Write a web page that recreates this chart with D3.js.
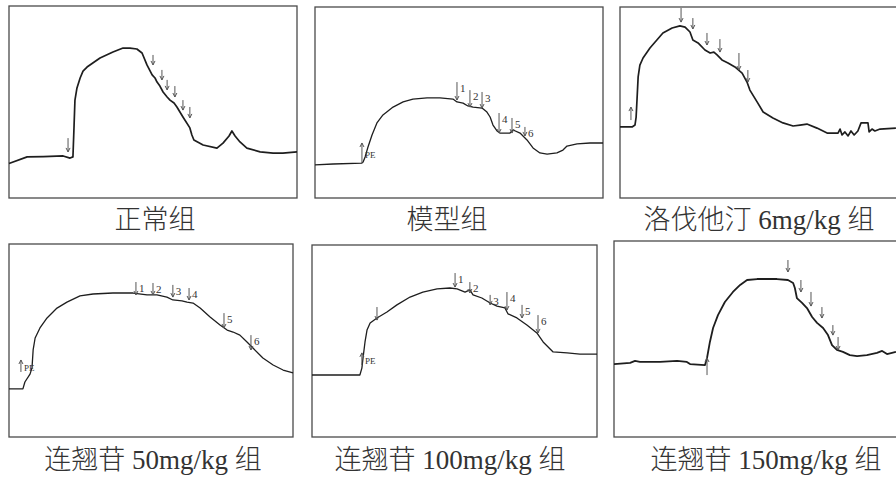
<!DOCTYPE html>
<html><head><meta charset="utf-8">
<script src="https://cdn.jsdelivr.net/npm/d3@7"></script>
<style>html,body{margin:0;padding:0;background:#fff;overflow:hidden}</style>
</head><body>
<svg id="c" width="896" height="477"></svg>
<script>
// ---- data (time 0-100, tension 0-100 per panel) ----
const titles = ["正常组","模型组","洛伐他汀 6mg/kg 组","连翘苷 50mg/kg 组","连翘苷 100mg/kg 组","连翘苷 150mg/kg 组"];

const trace1 = [[0,18],[6.3,21.4],[12,21.6],[18.8,21.9],[21.2,20.8],[22.2,21.4],[22.6,38],[22.9,51],[23.6,57.3],[24.7,62.5],[25.7,66.1],[27.1,68.2],[31.6,72.9],[36.1,76],[39.6,78.1],[42,78.1],[44.4,77.6],[46.2,75.5],[47.9,69.3],[49.7,64.1],[50.7,62.5],[51.4,60.4],[52.4,58.3],[53.5,55.2],[54.9,52.6],[55.9,51],[57.3,49.5],[58.3,47.4],[60.4,42.2],[62.8,36.5],[63.5,32.8],[64.2,30.2],[67.4,27.6],[72.2,26],[74.3,28.6],[76.4,32.3],[77.4,34.9],[78.5,32.3],[80.2,29.2],[82.6,26],[87.2,24],[91.7,23.4],[95.1,23.4],[100,24]];
const marks1 = [[20.5,31.2,24,""],[50,74.5,69.3,""],[53.1,66.7,61.5,""],[54.9,61.5,56.3,""],[57.6,58.3,52.6,""],[60.4,51,45.8,""],[62.8,47.4,41.7,""]];

const trace2 = [[0,17.3],[6.3,17.8],[16.3,18.3],[16.7,18.8],[17.4,21.5],[18.4,26.7],[19.8,33],[21.5,39.3],[23.6,43.5],[27.1,47.6],[30.6,50.3],[34,51.8],[38.9,52.4],[43.4,52.4],[47.9,51.8],[49.3,50.3],[51.4,49.7],[53.1,48.2],[54.9,47.6],[58,47.1],[59.7,45],[60.8,42.4],[61.8,38.2],[63.2,35.1],[64.2,34],[67.7,34],[68.8,35.6],[71.2,34],[73.6,30.4],[75.7,26.2],[78.1,23.6],[80.6,23],[84,23.6],[86.1,25.1],[87.5,27.2],[91,28.3],[95.5,28.8],[100,28.8]];
const marks2 = [[16.3,18.3,28.8,"PE"],[49.3,60.7,51.3,"1"],[53.8,56.5,47.6,"2"],[58,55.5,47.1,"3"],[63.9,44.5,34,"4"],[68.4,41.9,34,"5"],[72.9,37.2,32.5,"6"]];

const trace3 = [[0,37.2],[4.2,37.2],[5.2,38.2],[5.6,42.4],[5.9,51.3],[6.3,63.4],[6.9,69.6],[8,73.3],[10.4,78.5],[12.8,82.7],[14.9,86.4],[18.1,89],[20.8,90.1],[22.6,89.5],[24.3,86.9],[25.3,82.7],[27.1,81.2],[29.5,77.5],[31.3,75.9],[32.6,76.4],[33.7,74.9],[35.4,72.3],[37.5,70.7],[39.9,68.6],[42.4,65.4],[44.1,60.7],[45.1,56.5],[47.6,50.3],[49.7,45],[53.1,41.9],[56.6,39.3],[60.1,37.7],[62.5,38.2],[64.9,38.7],[68.4,36.6],[71.9,34],[75.7,34],[76.4,36.1],[77.1,33],[78.1,34.6],[79.2,32.5],[80.2,35.1],[81.3,33],[82.6,35.1],[83.7,39.3],[86.1,39.3],[86.5,34.6],[87.5,36.1],[88.5,35.1],[90.3,36.1],[95.8,36.6]];
const marks3 = [[3.8,40.8,47.6,""],[21.2,99.5,92.1,""],[25.3,94.2,88.5,""],[30.2,86.4,80.1,""],[34.7,83.2,76.4,""],[41.3,75.9,67,""],[44.4,67,60.7,""]];

const trace4 = [[0,24.9],[4.9,24.9],[5.6,28.5],[7.4,32.6],[8.1,35.8],[8.5,45.1],[9.2,51.3],[10.9,56.5],[13.4,61.7],[16.9,66.8],[20.4,69.9],[25,73.1],[29.6,74.1],[36.6,74.6],[43.7,74.6],[48.6,73.6],[52.1,73.6],[55.6,72.5],[57.7,71],[60.9,70.5],[62.7,69.9],[64.8,69.4],[67.3,66.8],[70.8,62.2],[74.3,58],[76.8,55.4],[78.9,54.4],[81.3,52.8],[83.8,49.2],[85.9,46.1],[89.4,40.9],[93,37.3],[96.5,34.7],[100,33.2]];
const marks4 = [[4.2,33.7,39.9,"PE"],[44.7,80.3,73.6,"1"],[50.7,79.8,73.6,"2"],[57.7,78.8,72.5,"3"],[63.4,77.2,71,"4"],[75.7,64.2,56.5,"5"],[85.2,52.8,45.1,"6"]];

const trace5 = [[0,32.3],[16.8,32.3],[17.5,35.9],[17.9,41.1],[18.6,49.5],[19.3,55.7],[20.4,59.4],[22.8,62],[26.3,65.1],[29.8,68.8],[34.4,72.9],[38.9,75.5],[43.9,77.1],[48.4,77.6],[50.9,77.1],[53.7,75.5],[55.4,76.6],[56.5,74],[59.6,72.4],[62.5,69.8],[64.9,68.2],[67.7,67.2],[68.8,64.1],[71.9,62],[75.4,58.3],[78.9,54.2],[81.1,49.5],[84.6,44.3],[89.5,43.8],[94,43.2],[100,43.2]];
const marks5 = [[17.5,37.5,43.8,"PE"],[22.8,67.7,60.9,""],[50.2,85.4,78.1,"1"],[55.4,80.7,75,"2"],[62.5,74,68.8,"3"],[68.4,75.5,66.1,"4"],[73.7,68.8,62,"5"],[79.3,63.5,54.2,"6"]];

const trace6 = [[0,37.2],[5.6,37.8],[7.3,38.8],[9,38.3],[16,38.3],[21.9,38.8],[25.3,38.3],[26.4,37.2],[31.6,36.7],[32.3,40.3],[33.3,48.5],[34.4,55.6],[36.1,62.2],[38.5,68.9],[41.3,74],[43.8,77.6],[46.2,80.1],[49.7,80.6],[56.6,80.6],[60.4,80.1],[62.2,78.6],[62.8,76],[63.5,70.9],[65.3,68.4],[67,65.8],[68.8,61.2],[70.5,58.2],[72.6,55.6],[74.3,52],[75.7,46.9],[77.4,44.4],[79.5,43.4],[81.9,41.8],[84.4,41.3],[87.8,41.8],[91.3,42.9],[93.1,43.9],[94.8,42.3],[97.9,43.4]];
const marks6 = [[32.3,31.6,40.3,""],[60.4,90.3,84.2,""],[64.9,80.1,74,""],[68.4,74,66.8,""],[72.2,66.3,60.7,""],[76,57.1,52,""],[77.8,51,44.4,""]];

// ---- layout ----
const frames = [
  {x:9,y:6,w:288,h:192},{x:315,y:7,w:288,h:191},{x:620,y:7,w:288,h:191},
  {x:9,y:244,w:284,h:193},{x:312,y:245,w:285,h:192},{x:614,y:241,w:288,h:196}];
const titlePos = [[155,229],[447,229],[759,229],[153,469],[450,469],[766,469]];
const traces = [trace1,trace2,trace3,trace4,trace5,trace6];
const marks = [marks1,marks2,marks3,marks4,marks5,marks6];
const traceW = [1.7,1.3,1.7,1.3,1.3,1.8];

const svg = d3.select("#c");
frames.forEach((f,i)=>{
  const xs = d3.scaleLinear([0,100],[f.x,f.x+f.w]);
  const ys = d3.scaleLinear([0,100],[f.y+f.h,f.y]);
  const g = svg.append("g");
  g.append("rect").attr("x",xs(0)).attr("y",ys(100)).attr("width",xs(100)-xs(0)).attr("height",ys(0)-ys(100))
    .attr("fill","none").attr("stroke","#4a4a4a").attr("stroke-width",1.3);
  g.append("path").datum(traces[i])
    .attr("d",d3.line().x(d=>xs(d[0])).y(d=>ys(d[1])))
    .attr("fill","none").attr("stroke","#1e1e1e").attr("stroke-width",traceW[i]).attr("stroke-linejoin","round");
  marks[i].forEach(m=>{
    const x = xs(m[0]), y1 = ys(m[1]), y2 = ys(m[2]);
    const dir = y2 > y1 ? 1 : -1;
    g.append("line").attr("x1",x).attr("x2",x).attr("y1",y1).attr("y2",y2)
      .attr("stroke","#555").attr("stroke-width",1);
    g.append("path").attr("d",`M${x-2},${y2-dir*4}L${x},${y2}L${x+2},${y2-dir*4}`)
      .attr("fill","none").attr("stroke","#555").attr("stroke-width",1);
    if(m[3]){
      const ly = m[3]==="PE" ? (y1+y2)/2+5 : Math.min(y1,y2)+10;
      g.append("text").attr("x",x+3).attr("y",ly).text(m[3])
        .attr("font-family","Liberation Serif").attr("font-size",m[3]==="PE"?9:11).attr("fill","#333");
    }
  });
  svg.append("text").attr("x",titlePos[i][0]).attr("y",titlePos[i][1]).attr("text-anchor","middle")
    .attr("font-family","'Liberation Serif','Noto Sans CJK SC'").attr("font-size",27).attr("font-weight",300).attr("fill","#333")
    .text(titles[i]);
});
</script>
</body></html>
